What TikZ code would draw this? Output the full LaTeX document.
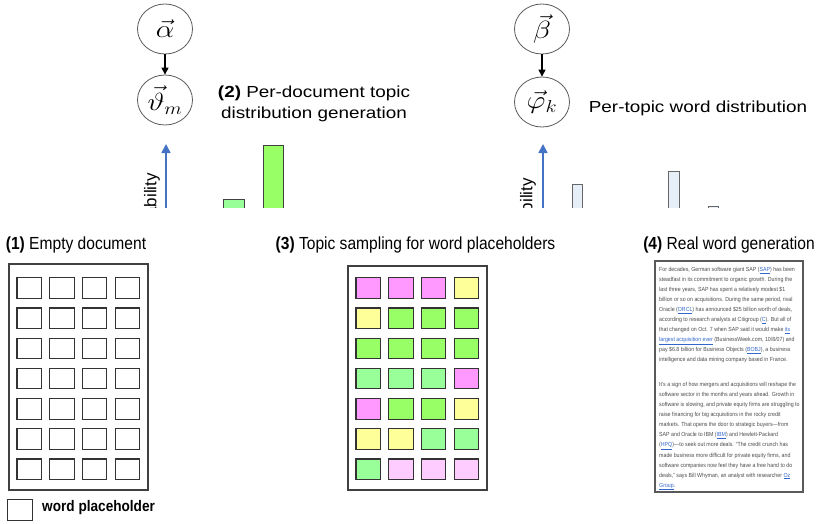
\documentclass[tikz,border=0pt]{standalone}
\usepackage{fontspec}
\setmainfont{Liberation Sans}
\usetikzlibrary{arrows.meta,shapes.geometric}
\definecolor{magc}{HTML}{FF99FF}
\definecolor{yelc}{HTML}{FFFF99}
\definecolor{grnc}{HTML}{99FF66}
\definecolor{lgrc}{HTML}{99FF99}
\definecolor{pnkc}{HTML}{FFCCFF}
\definecolor{axisc}{HTML}{4472C4}
\definecolor{barb}{HTML}{E6EEF8}
\definecolor{linkc}{HTML}{3366CC}
\newcommand\lk[1]{\textcolor{linkc}{\underline{#1}}}
\newcommand\wide[1]{\scalebox{1.18}[1]{#1}}
\newcommand\narr[1]{\scalebox{0.89}[1]{#1}}
\begin{document}
\begin{tikzpicture}[x=1pt,y=-1pt,
  varnode/.style={ellipse,draw=black!65,line width=0.8pt,minimum width=55pt,minimum height=50pt,inner sep=0pt,font=\fontsize{23}{26}\selectfont},
  causal/.style={draw=black,line width=1.2pt,-{Triangle[length=7pt,width=7pt]}},
  axisarrow/.style={draw=axisc,line width=1.5pt,-{Triangle[length=9pt,width=9pt]}},
  toplabel/.style={font=\fontsize{16}{21}\selectfont,align=center,inner sep=0pt},
  botlabel/.style={font=\fontsize{17.5}{21}\selectfont,inner sep=0pt},
  docbox/.style={draw=black!75,line width=1.3pt},
  cell/.style={draw=black!80,line width=1.1pt,minimum width=24.5pt,minimum height=20.5pt,inner sep=0pt},
  barA/.style={draw=black!75,line width=1pt},
  barB/.style={draw=black!60,fill=barb,line width=1pt},
  problabel/.style={font=\fontsize{17}{20}\selectfont,rotate=90,anchor=east,inner sep=0pt}
]
\useasboundingbox (0,0) rectangle (825,523);

% ---------- top: graphical model nodes ----------
\node[varnode] (alpha) at (165,29) {\wide{$\vec{\alpha}$}};
\node[varnode] (theta) at (165,100) {\wide{$\vec{\vartheta}_m$}};
\node[varnode] (beta) at (542,29) {\wide{$\vec{\beta}$}};
\node[varnode] (phi) at (542,102) {\wide{$\vec{\varphi}_k$}};
\draw[causal] (alpha) -- (theta);
\draw[causal] (beta) -- (phi);

\node[toplabel] (lab2) at (314,104) {\wide{\textbf{(2)} Per-document topic}\\\wide{distribution generation}};
\node[toplabel] (labw) at (698,108) {\wide{Per-topic word distribution}};

% ---------- top: clipped probability charts ----------
\begin{scope}
\clip (0,0) rectangle (825,207);
\coordinate (axAb) at (166,230);
\coordinate (axAt) at (166,144);
\coordinate (axBb) at (543,230);
\coordinate (axBt) at (543,144);
\draw[axisarrow] (axAb) -- (axAt);
\draw[axisarrow] (axBb) -- (axBt);
\node[problabel] (pA) at (152,173) {Probability};
\node[problabel] (pB) at (528,178) {Probability};
\draw[barA,fill=lgrc] (223,199) rectangle (244,230);
\draw[barA,fill=grnc] (263,145) rectangle (283,230);
\draw[barB] (572,184) rectangle (582,230);
\draw[barB] (668,171) rectangle (679,230);
\draw[barB] (708,206) rectangle (718,230);
\end{scope}

% ---------- bottom titles ----------
\node[botlabel] (t1) at (76,245) {\narr{\textbf{(1)} Empty document}};
\node[botlabel] (t3) at (415.5,245) {\narr{\textbf{(3)} Topic sampling for word placeholders}};
\node[botlabel] (t4) at (729,245) {\narr{\textbf{(4)} Real word generation}};

% ---------- (1) empty document ----------
\draw[docbox] (9,264) rectangle (148,490);
\foreach \r in {0,...,6}{
  \foreach \c in {0,...,3}{
    \node[cell] (e-\r-\c) at (29.25+32.7*\c, 288+30.2*\r) {};
  }
}
\node[cell] (legbox) at (20,510) {};
\node[font=\bfseries\fontsize{15.3}{18}\selectfont,anchor=west,inner sep=0pt] (legtext) at (42,508) {\narr{word placeholder}};

% ---------- (3) topic sampling ----------
\draw[docbox] (348,266) rectangle (487,490);
\foreach \colr [count=\r from 0] in {{magc,magc,magc,yelc},{yelc,grnc,grnc,grnc},{grnc,grnc,grnc,grnc},{lgrc,lgrc,lgrc,magc},{magc,grnc,grnc,yelc},{yelc,yelc,lgrc,lgrc},{lgrc,pnkc,pnkc,pnkc}}{
  \foreach \cc [count=\c from 0] in \colr {
    \node[cell,fill=\cc] (s-\r-\c) at (368.25+32.7*\c, 288+30.2*\r) {};
  }
}

% ---------- (4) real word generation ----------
\draw[draw=black!65,line width=1.3pt] (655,261) rectangle (803,492);
\node[anchor=north west,inner sep=0pt,text=black!70] (doc) at (659,264.5) {\narr{\fontsize{5.9}{10}\selectfont\begin{tabular}{@{}l@{}}
For decades, German software giant SAP (\lk{SAP}) has been\\
steadfast in its commitment to organic growth. During the\\
last three years, SAP has spent a relatively modest \$1\\
billion or so on acquisitions. During the same period, rival\\
Oracle (\lk{ORCL}) has announced \$25 billion worth of deals,\\
according to research analysts at Citigroup (\lk{C}). But all of\\
that changed on Oct. 7 when SAP said it would make \lk{its}\\
\lk{largest acquisition ever} (BusinessWeek.com, 10/8/07) and\\
pay \$6.8 billion for Business Objects (\lk{BOBJ}), a business\\
intelligence and data mining company based in France.\\[15pt]
It's a sign of how mergers and acquisitions will reshape the\\
software sector in the months and years ahead. Growth in\\
software is slowing, and private equity firms are struggling to\\
raise financing for big acquisitions in the rocky credit\\
markets. That opens the door to strategic buyers---from\\
SAP and Oracle to IBM (\lk{IBM}) and Hewlett-Packard\\
(\lk{HPQ})---to seek out more deals. “The credit crunch has\\
made business more difficult for private equity firms, and\\
software companies now feel they have a free hand to do\\
deals,” says Bill Whyman, an analyst with researcher \lk{Oz}\\
\lk{Group}.
\end{tabular}}};
\end{tikzpicture}
\end{document}
